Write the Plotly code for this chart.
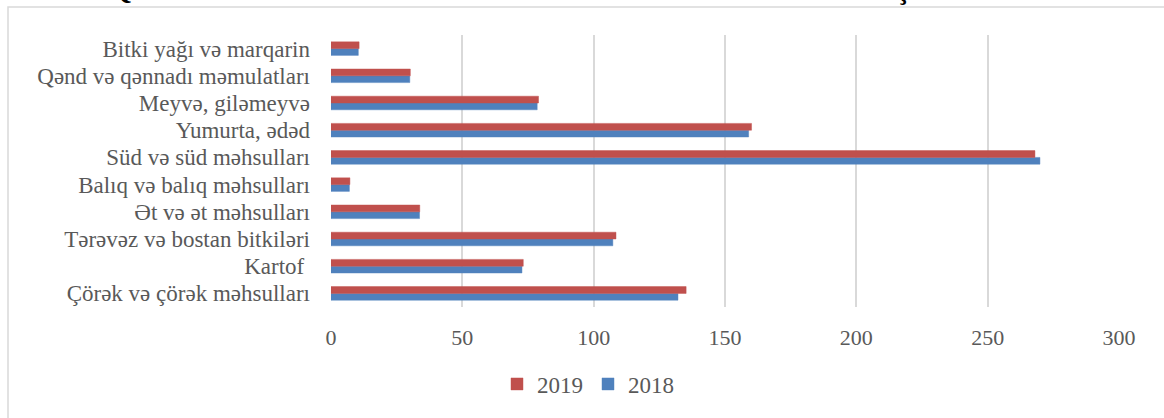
import plotly.graph_objects as go

# Food product groups, bottom to top
categories = [
    "Çörək və çörək məhsulları",
    "Kartof ",
    "Tərəvəz və bostan bitkiləri",
    "Ət və ət məhsulları",
    "Balıq və balıq məhsulları",
    "Süd və süd məhsulları",
    "Yumurta, ədəd",
    "Meyvə, giləmeyvə",
    "Qənd və qənnadı məmulatları",
    "Bitki yağı və marqarin",
]
values_2018 = [132.1, 72.7, 107.3, 33.7, 7.0, 269.9, 159.0, 78.5, 30.0, 10.4]
values_2019 = [135.2, 73.2, 108.5, 33.8, 7.2, 268.0, 160.1, 79.0, 30.2, 10.7]
x_ticks = [0, 50, 100, 150, 200, 250, 300]

W, H = 1164, 418
ML, MR, MT, MB = 331, 45, 35, 111
PW, PH = W - ML - MR, H - MT - MB

def px_x(p):
    return (p - ML) / PW

def px_y(p):
    return 1 - (p - MT) / PH

FONT = "Liberation Serif, Times New Roman, serif"
GREY = "#595959"

fig = go.Figure()
fig.add_trace(go.Bar(
    y=categories, x=values_2018, name="2018", orientation="h",
    marker=dict(color="#4F81BD", line=dict(color="rgba(79,129,189,0.45)", width=1)),
))
fig.add_trace(go.Bar(
    y=categories, x=values_2019, name="2019", orientation="h",
    marker=dict(color="#C0504D", line=dict(color="rgba(192,80,77,0.45)", width=1)),
))

# outer chart frame
fig.add_shape(type="rect", xref="paper", yref="paper",
              x0=px_x(8), x1=px_x(W + 20), y0=px_y(H + 20), y1=px_y(7),
              line=dict(color="#D9D9D9", width=1.5), fillcolor="rgba(0,0,0,0)", layer="below")

# chart title
fig.add_annotation(
    text="<b>Qida məhsullarının əsas növləri üzrə ev təsərrüfatlarında adambaşına istehlak</b>",
    xref="paper", yref="paper", x=px_x(578), y=px_y(-10), xanchor="center", yanchor="middle",
    showarrow=False, font=dict(family=FONT, size=28, color="#000000"),
)

fig.update_layout(
    template="none",
    width=W, height=H,
    margin=dict(l=ML, r=MR, t=MT, b=MB, autoexpand=False),
    paper_bgcolor="white", plot_bgcolor="white",
    barmode="group", bargap=0.5, bargroupgap=0,
    font=dict(family=FONT, size=20, color=GREY),
    showlegend=True,
    legend=dict(
        orientation="h", traceorder="reversed",
        x=px_x(497), y=px_y(384), xanchor="left", yanchor="middle",
        font=dict(family=FONT, size=23, color=GREY),
        itemwidth=30, bgcolor="rgba(0,0,0,0)",
    ),
    xaxis=dict(
        range=[0, 300], tickmode="array", tickvals=x_ticks, ticktext=[str(v) for v in x_ticks],
        showgrid=True, gridcolor="#D9D9D9", gridwidth=1.5,
        zeroline=False, showline=False, ticks="",
        tickfont=dict(family=FONT, size=22, color=GREY),
        ticklabelstandoff=15, automargin=False,
    ),
    yaxis=dict(
        type="category", categoryorder="array", categoryarray=categories,
        tickmode="array", tickvals=categories, ticktext=categories,
        showgrid=False, zeroline=False, showline=False, ticks="",
        tickfont=dict(family=FONT, size=23, color=GREY),
        ticklabelstandoff=20, automargin=False,
    ),
)

fig.write_html("out.html")
